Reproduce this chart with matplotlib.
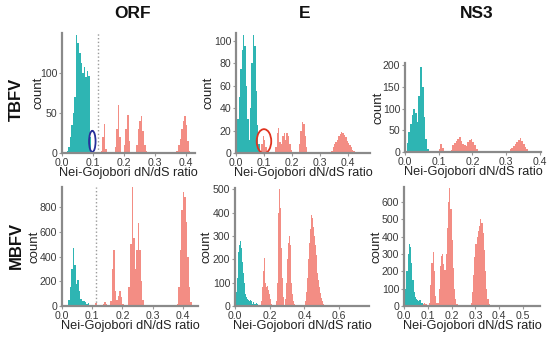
import numpy as np
import matplotlib
matplotlib.use("Agg")
import matplotlib.pyplot as plt
from matplotlib.patches import Ellipse

plt.rcParams['font.family'] = ['Liberation Sans', 'DejaVu Sans']

# bin width of the histograms
BW = 0.005

# each series: list of (first bin left edge, counts per bin)
orf_tbfv_low = [(0.015, [2, 8, 20, 35, 50, 70, 148, 138, 125, 112, 100, 108, 95, 102, 96, 20])]
orf_tbfv_high = [(0.125, [3, 20, 36, 5]),
                 (0.170, [8, 30, 60, 20]),
                 (0.200, [10, 30, 48, 15]),
                 (0.240, [10, 30, 40, 46, 28, 10, 3]),
                 (0.370, [3, 10, 18, 30, 40, 46, 35, 15, 3])]

e_tbfv_low = [(0.000, [5, 30, 50, 75, 92, 105, 95, 60, 30, 12, 40, 80, 105, 95, 55, 25, 8, 2])]
e_tbfv_high = [(0.090, [8, 15, 12, 5]),
               (0.140, [5, 18, 22, 10, 8, 15, 18, 12, 18, 15, 8, 3]),
               (0.225, [8, 20, 28, 26, 15, 5]),
               (0.340, [2, 5, 8, 10, 12, 15, 17, 19, 18, 16, 14, 11, 9, 7, 5, 3, 2, 1])]

ns3_tbfv_low = [(0.000, [3, 20, 45, 65, 85, 100, 90, 70, 130, 195, 150, 80, 30, 8])]
ns3_tbfv_high = [(0.100, [6, 18, 10]),
                 (0.135, [5, 15, 20, 25, 30, 34, 25, 18, 15, 14, 22, 28, 30, 24, 15, 8, 3]),
                 (0.305, [3, 6, 10, 14, 18, 22, 28, 32, 25, 18, 12, 6, 3])]

orf_mbfv_low = [(0.015, [10, 50, 150, 300, 470, 330, 180, 210, 120, 60, 40, 40, 30, 20, 25, 10])]
orf_mbfv_high = [(0.110, [25, 10]),
                 (0.130, [10, 20, 35, 15]),
                 (0.160, [40, 300, 455, 120, 50, 80, 120, 70, 20]),
                 (0.220, [150, 500, 960, 550, 300, 450, 670, 450, 200, 50]),
                 (0.380, [20, 150, 450, 780, 920, 880, 680, 400, 150, 30])]

e_mbfv_low = [(0.000, [20, 60, 120, 180, 230, 260, 280, 250, 190, 140, 100, 70, 50, 40, 30, 25,
                       20, 25, 15, 20, 10, 15, 10, 8, 12, 8, 5, 5, 3])]
e_mbfv_high = [(0.150, [20, 80, 150, 205, 170, 100, 80, 85, 70, 50, 30, 20, 10]),
               (0.235, [20, 100, 250, 400, 500, 420, 250, 120, 40, 10]),
               (0.290, [30, 100, 200, 270, 300, 260, 180, 100, 50, 20, 8]),
               (0.405, [20, 60, 120, 200, 270, 330, 370, 390, 375, 340, 300, 260, 220, 180,
                        140, 110, 80, 55, 35, 20, 10])]

ns3_mbfv_low = [(0.000, [30, 100, 200, 300, 360, 340, 250, 150, 80, 50, 40, 35, 30, 35, 20, 15, 10, 5])]
ns3_mbfv_high = [(0.075, [5, 10, 15, 10, 5]),
                 (0.105, [20, 120, 250, 310, 200, 60, 15]),
                 (0.140, [20, 100, 230, 290, 300, 240, 210, 300, 450, 600, 680, 560, 380, 220,
                          100, 40, 10]),
                 (0.280, [20, 80, 180, 280, 360, 400, 430, 460, 500, 480, 420, 320, 200, 100, 40, 10])]

gene_titles = ["ORF", "E", "NS3"]
row_labels = ["TBFV", "MBFV"]

TEAL = "#2eb5b3"
SALMON = "#f38d84"
W, H = 550, 338

fig = plt.figure(figsize=(W / 100, H / 100), dpi=100)


def draw_hist(ax, series, color):
    for start, counts in series:
        edges = start + BW * np.arange(len(counts) + 1)
        ax.stairs(counts, edges, fill=True, color=color, linewidth=0)


def make_panel(box, xlim, xticks, ylim, yticks, low, high, ylab_px):
    l, t, r, b = box
    ax = fig.add_axes([l / W, 1 - b / H, (r - l) / W, (b - t) / H])
    draw_hist(ax, low, TEAL)
    draw_hist(ax, high, SALMON)
    ax.set_xlim(*xlim)
    ax.set_ylim(*ylim)
    ax.set_xticks(xticks)
    ax.set_xticklabels([f"{v:.1f}" for v in xticks])
    ax.set_yticks(yticks)
    for s in ["top", "right"]:
        ax.spines[s].set_visible(False)
    for s in ["left", "bottom"]:
        ax.spines[s].set_color("#8a8a8a")
        ax.spines[s].set_linewidth(1.6)
    ax.tick_params(length=2, width=0.8, color="#9a9a9a", labelsize=7.6,
                   labelcolor="#3a3a3a", pad=1.5)
    ax.set_xlabel("Nei-Gojobori dN/dS ratio", fontsize=9.2, color="#222222", va="center")
    ax.xaxis.set_label_coords(0.5, -20 / (b - t))
    ax.set_ylabel("count", fontsize=9.5, color="#222222", va="center")
    ax.yaxis.set_label_coords((ylab_px - l) / (r - l), 0.5)
    return ax


a1 = make_panel((62, 33, 195, 153), (0, 0.43), [0, 0.1, 0.2, 0.3, 0.4], (0, 150),
                [0, 50, 100], orf_tbfv_low, orf_tbfv_high, 39)
a2 = make_panel((236, 33, 370, 153), (0, 0.479), [0, 0.1, 0.2, 0.3, 0.4], (0, 107),
                [0, 20, 40, 60, 80, 100], e_tbfv_low, e_tbfv_high, 209)
a3 = make_panel((405, 63, 541, 152), (0, 0.403), [0, 0.1, 0.2, 0.3, 0.4], (0, 205),
                [0, 50, 100, 150, 200], ns3_tbfv_low, ns3_tbfv_high, 378)
b1 = make_panel((62, 187, 198, 306), (0, 0.45), [0, 0.1, 0.2, 0.3, 0.4], (0, 962),
                [0, 200, 400, 600, 800], orf_mbfv_low, orf_mbfv_high, 34)
b2 = make_panel((235, 188, 369, 306), (0, 0.772), [0, 0.2, 0.4, 0.6], (0, 505),
                [0, 100, 200, 300, 400, 500], e_mbfv_low, e_mbfv_high, 207)
b3 = make_panel((404, 187, 540, 306), (0, 0.571), [0, 0.1, 0.2, 0.3, 0.4, 0.5], (0, 686),
                [0, 100, 200, 300, 400, 500, 600], ns3_mbfv_low, ns3_mbfv_high, 376)

# dotted threshold lines in the ORF panels
a1.axvline(0.115, color="#9a9a9a", linestyle=":", linewidth=1)
b1.axvline(0.111, color="#9a9a9a", linestyle=":", linewidth=1)

# highlighted bins
a1.add_patch(Ellipse((0.098, 14.5), 0.021, 26.5, fill=False, edgecolor="#27309a",
                     linewidth=1.3, clip_on=False))
a2.add_patch(Ellipse((0.100, 10.5), 0.052, 21.5, fill=False, edgecolor="#e0321e",
                     linewidth=1.3, clip_on=False))

for x_px, txt in zip([133, 305, 477], gene_titles):
    fig.text(x_px / W, 1 - 14 / H, txt, ha="center", va="center",
             fontsize=12.5, fontweight="bold", color="#111111")
for y_px, txt in zip([99, 245], row_labels):
    fig.text(16 / W, 1 - y_px / H, txt, ha="center", va="center", rotation=90,
             fontsize=12, fontweight="bold", color="#111111")

fig.savefig("out.png", dpi=100)
